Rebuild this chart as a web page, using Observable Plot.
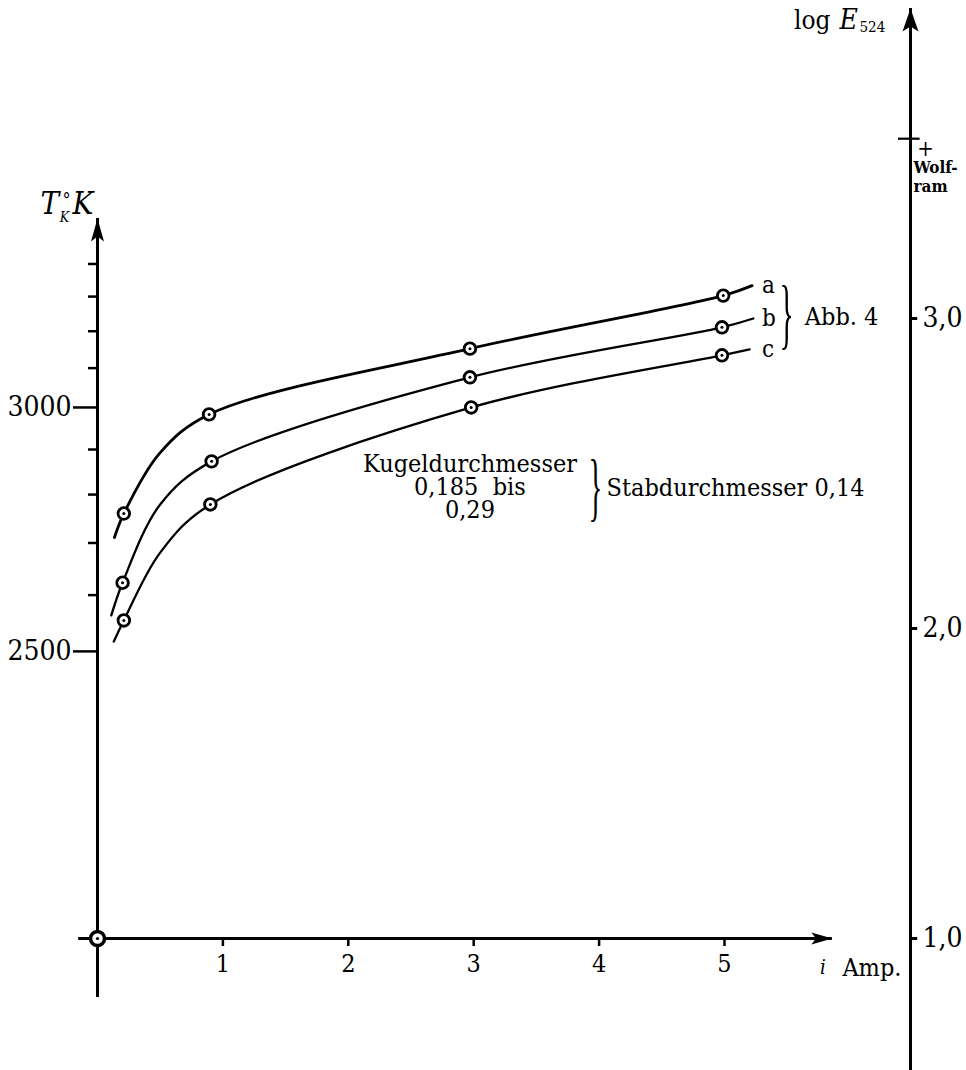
<!DOCTYPE html>
<html>
<head>
<meta charset="utf-8">
<script src="https://cdn.jsdelivr.net/npm/d3@7"></script>
<script src="https://cdn.jsdelivr.net/npm/@observablehq/plot@0.6"></script>
<style>
  html, body { margin: 0; padding: 0; background: #fff; }
  #chart { position: relative; width: 966px; height: 1070px; overflow: hidden; background: #fff; }
  #chart > svg { position: absolute; left: 0; top: 0; }
</style>
</head>
<body>
<div id="chart"></div>
<script>
// ---------------- data ----------------
const seriesNames = ["a", "b", "c"];

// measured points (circles): current i [Amp.] and temperature T_K [°K]
const currentA = [0.21, 0.89, 2.97, 4.99];
const tempA    = [2760, 2983, 3152, 3303];
const currentB = [0.20, 0.91, 2.97, 4.98];
const tempB    = [2623, 2873, 3076, 3211];
const currentC = [0.21, 0.90, 2.98, 4.98];
const tempC    = [2554, 2779, 3000, 3134];

// drawn curves (including the short extensions)
const curveCurrentA = [0.135, 0.21, 0.50, 0.89, 2.97, 4.99, 5.22];
const curveTempA    = [2711, 2760, 2893, 2983, 3152, 3303, 3333];
const curveCurrentB = [0.11, 0.20, 0.50, 0.91, 2.97, 4.98, 5.23];
const curveTempB    = [2563, 2623, 2779, 2873, 3076, 3211, 3236];
const curveCurrentC = [0.13, 0.21, 0.50, 0.90, 2.98, 4.98, 5.20];
const curveTempC    = [2517, 2554, 2681, 2779, 3000, 3134, 3150];

// axes
const tempTicksLabeled = [2500, 3000];
const tempTicksMinor   = [2600, 2700, 2800, 2900, 3100, 3200, 3300, 3400];
const currentTicks     = [1, 2, 3, 4, 5];
const logETicks        = [1, 2, 3];
const logEWolfram      = 3.58;

// extents of the drawn axes
const tempAtCurrentAxis = 2090;          // T level of the i-axis (= log E 1,0)
const tempAxisEnds      = [2022, 3550];
const currentAxisEnds   = [-0.15, 5.86];
const logEAxisEnds      = [0.55, 4.0];

// annotation anchors (data coordinates)
const curveLabelCurrent = 5.30;
const abbNote   = {i: 5.64, T: 3241, text: "Abb. 4"};
const brace1    = {i: 5.495, T: 3247};
const kugelNote = {i: 2.97, T: 2815, text: "Kugeldurchmesser\n0,185\u00a0\u00a0bis\n0,29"};
const brace2    = {i: 3.97, T: 2815};
const stabNote  = {i: 4.06, T: 2815, text: "Stabdurchmesser 0,14"};
const ampNote   = {iSym: 5.785, iText: 5.94};

// ---------------- build tables ----------------
const measured = [
  [currentA, tempA], [currentB, tempB], [currentC, tempC]
].flatMap(([I, T], k) => I.map((i, j) => ({series: seriesNames[k], i, T: T[j]})));
const curves = [
  [curveCurrentA, curveTempA], [curveCurrentB, curveTempB], [curveCurrentC, curveTempC]
].map(([I, T], k) => I.map((i, j) => ({series: seriesNames[k], i, T: T[j]})));
const curveLabels = curves.map((c, k) => ({series: seriesNames[k], i: curveLabelCurrent, T: c[c.length - 1].T}));

const FONT = "'DejaVu Serif Condensed','DejaVu Serif','Liberation Serif',serif";

function arrowHead(dir, L, w) {
  return {draw(ctx) {
    if (dir === "up") {
      ctx.moveTo(0, 0); ctx.lineTo(w, L); ctx.lineTo(0, L * 0.78); ctx.lineTo(-w, L);
    } else {
      ctx.moveTo(0, 0); ctx.lineTo(-L, -w); ctx.lineTo(-L * 0.78, 0); ctx.lineTo(-L, w);
    }
    ctx.closePath();
  }};
}

// ---------------- main chart: T (reciprocal scale) vs i ----------------
const main = Plot.plot({
  width: 966, height: 1070,
  marginLeft: 97, marginRight: 242, marginTop: 218, marginBottom: 132,
  style: {fontFamily: FONT, color: "#000", background: "transparent", overflow: "visible"},
  x: {domain: [0, 5], label: null},
  y: {type: "pow", exponent: -1, domain: [tempAtCurrentAxis, tempAxisEnds[1]], label: null},
  marks: [
    // axis lines
    Plot.ruleY([tempAtCurrentAxis], {x1: currentAxisEnds[0], x2: currentAxisEnds[1], stroke: "#000", strokeWidth: 3}),
    Plot.ruleX([0], {y1: tempAxisEnds[0], y2: tempAxisEnds[1], stroke: "#000", strokeWidth: 3}),
    Plot.dot([{i: currentAxisEnds[1], T: tempAtCurrentAxis}], {x: "i", y: "T", symbol: arrowHead("right", 21, 6), fill: "#000"}),
    Plot.dot([{i: 0, T: tempAxisEnds[1]}], {x: "i", y: "T", symbol: arrowHead("up", 23, 6.5), fill: "#000"}),
    // ticks
    Plot.axisX({ticks: currentTicks, tickSize: 8, tickPadding: 8, tickFormat: d => String(d),
      fontSize: 25, strokeWidth: 2.5, label: null}),
    Plot.axisY({ticks: tempTicksMinor, tickSize: 9, tickFormat: () => "", strokeWidth: 2.5, label: null}),
    Plot.axisY({ticks: tempTicksLabeled, tickSize: 24, tickPadding: 2, tickFormat: d => String(d),
      fontSize: 28, strokeWidth: 2.5, label: null}),
    // curves
    Plot.line(curves[0], {x: "i", y: "T", curve: "catmull-rom", stroke: "#000", strokeWidth: 2.8}),
    Plot.line(curves[1], {x: "i", y: "T", curve: "catmull-rom", stroke: "#000", strokeWidth: 2.3}),
    Plot.line(curves[2], {x: "i", y: "T", curve: "catmull-rom", stroke: "#000", strokeWidth: 2.3}),
    // measured points
    Plot.dot(measured, {x: "i", y: "T", r: 5.8, fill: "#fff", stroke: "#000", strokeWidth: 2.8}),
    Plot.dot(measured, {x: "i", y: "T", r: 1.5, fill: "#000"}),
    // origin marker
    Plot.dot([{i: 0, T: tempAtCurrentAxis}], {x: "i", y: "T", r: 7, fill: "#fff", stroke: "#000", strokeWidth: 3.5}),
    Plot.dot([{i: 0, T: tempAtCurrentAxis}], {x: "i", y: "T", r: 1.6, fill: "#000"}),
    // curve labels
    Plot.text(curveLabels, {x: "i", y: "T", text: "series", textAnchor: "start", fontSize: 24}),
    Plot.text([brace1], {x: "i", y: "T", text: () => "}", fontSize: 78, fontFamily: "Liberation Serif"}),
    Plot.text([abbNote], {x: "i", y: "T", text: "text", textAnchor: "start", fontSize: 25}),
    // notes
    Plot.text([kugelNote], {x: "i", y: "T", text: "text", fontSize: 25, lineHeight: 0.93}),
    Plot.text([brace2], {x: "i", y: "T", text: () => "}", fontSize: 76, fontFamily: "Liberation Serif"}),
    Plot.text([stabNote], {x: "i", y: "T", text: "text", textAnchor: "start", fontSize: 25}),
    // i-axis label
    Plot.text([ampNote], {x: "iSym", y: () => tempAtCurrentAxis, text: () => "i", dy: 29, fontSize: 20, fontStyle: "italic"}),
    Plot.text([ampNote], {x: "iText", y: () => tempAtCurrentAxis, text: () => "Amp.", dy: 29, textAnchor: "start", fontSize: 25}),
    // T-axis label  T°_K K
    Plot.text([{i: 0, T: tempAxisEnds[1]}], {x: "i", y: "T", text: () => "T", dx: -57, dy: -14, textAnchor: "start", fontSize: 31, fontStyle: "italic"}),
    Plot.text([{i: 0, T: tempAxisEnds[1]}], {x: "i", y: "T", text: () => "°", dx: -31, dy: -18, fontSize: 18}),
    Plot.text([{i: 0, T: tempAxisEnds[1]}], {x: "i", y: "T", text: () => "K", dx: -33, dy: -1, fontSize: 14, fontStyle: "italic"}),
    Plot.text([{i: 0, T: tempAxisEnds[1]}], {x: "i", y: "T", text: () => "K", dx: -25, dy: -14, textAnchor: "start", fontSize: 31, fontStyle: "italic"})
  ]
});

// ---------------- right axis: log E_524 (linear) ----------------
const right = Plot.plot({
  width: 966, height: 1070,
  marginLeft: 898, marginRight: 44, marginTop: 318, marginBottom: 132,
  style: {fontFamily: FONT, color: "#000", background: "transparent", overflow: "visible"},
  x: {domain: [-1, 1], axis: null},
  y: {domain: [1, 3], label: null},
  marks: [
    Plot.ruleX([0], {y1: logEAxisEnds[0], y2: logEAxisEnds[1], stroke: "#000", strokeWidth: 3}),
    Plot.dot([{x: 0, y: logEAxisEnds[1]}], {x: "x", y: "y", symbol: arrowHead("up", 23, 8), fill: "#000"}),
    Plot.ruleY(logETicks, {x1: 0, x2: 0.6, stroke: "#000", strokeWidth: 3}),
    Plot.ruleY([logEWolfram], {x1: -1, x2: 0.8, stroke: "#000", strokeWidth: 2.2}),
    Plot.axisY({anchor: "right", ticks: logETicks, tickSize: 0, tickPadding: 0,
      tickFormat: d => d.toFixed(1).replace(".", ","), fontSize: 28, label: null}),
    Plot.text([logEWolfram], {x: () => 0, y: d => d, text: () => "+", dx: 15, dy: 10, fontSize: 22}),
    Plot.text([logEWolfram], {x: () => 0, y: d => d, text: () => "Wolf-\nram", dx: 3, dy: 38, textAnchor: "start",
      fontSize: 17, fontWeight: "bold", lineHeight: 1.1}),
    Plot.text([logEAxisEnds[1]], {x: () => 0, y: d => d, text: () => "log", dx: -80, dy: 12, textAnchor: "end", fontSize: 26}),
    Plot.text([logEAxisEnds[1]], {x: () => 0, y: d => d, text: () => "E", dx: -71, dy: 12, textAnchor: "start", fontSize: 28, fontStyle: "italic"}),
    Plot.text([logEAxisEnds[1]], {x: () => 0, y: d => d, text: () => "524", dx: -51, dy: 19, textAnchor: "start", fontSize: 15})
  ]
});

// narrow the braces (tall, thin brackets as in the figure)
d3.select(main).selectAll("text").filter(function() { return this.textContent === "}"; }).each(function() {
  const t = d3.select(this);
  const tr = t.attr("transform");
  if (tr) t.attr("transform", tr + " scale(0.38,1)");
  else {
    const x = +t.attr("x") || 0, y = +t.attr("y") || 0;
    t.attr("transform", `translate(${x},${y}) scale(0.38,1) translate(${-x},${-y})`);
  }
});

const chart = document.getElementById("chart");
chart.appendChild(main);
chart.appendChild(right);
</script>
</body>
</html>
